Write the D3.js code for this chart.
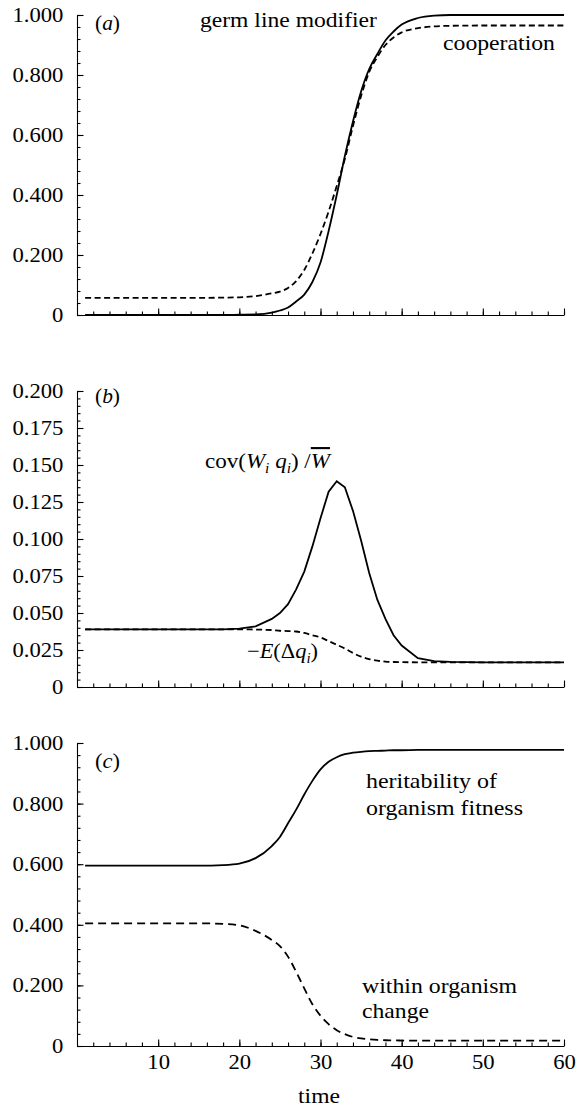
<!DOCTYPE html>
<meta charset="utf-8">
<style>
body { margin: 0; background: #fff; }
svg { display: block; background: #fff; }
text { font-family: "Liberation Serif", Tinos, "Times New Roman", Times, "Nimbus Roman", "Nimbus Roman No9 L", FreeSerif, "Noto Serif", "DejaVu Serif", serif; fill: #000; }
.axis path, .axis line { stroke: #000; stroke-width: 1.1px; }
.curve { fill: none; stroke: #000; stroke-width: 1.8px; }
</style>
<svg width="582" height="1107"></svg>
<script src="https://d3js.org/d3.v7.min.js"></script>
<script>
// time points (denser where the curves move)
var time = [1, 5, 10, 15, 18, 20, 22,
            24, 25, 26, 27, 28, 29, 30, 31, 32, 33, 34, 35, 36, 37, 38, 39, 40,
            42, 44, 46, 50, 55, 60];

// (a) frequencies
var germLine = [0, 0, 0, 0, 0, 0.001, 0.002,
                0.008, 0.015, 0.025, 0.045, 0.068, 0.11, 0.175, 0.28, 0.40, 0.53, 0.645, 0.745, 0.82, 0.87, 0.915, 0.945, 0.968,
                0.99, 0.998, 1.0, 1.0, 1.0, 1.0];
var cooperation = [0.057, 0.057, 0.057, 0.057, 0.058, 0.059, 0.063,
                   0.072, 0.078, 0.09, 0.113, 0.15, 0.205, 0.27, 0.345, 0.43, 0.52, 0.63, 0.73, 0.81, 0.86, 0.9, 0.925, 0.942,
                   0.956, 0.962, 0.964, 0.965, 0.965, 0.965];

// (b) change components
var covW = [0.039, 0.039, 0.039, 0.039, 0.039, 0.0395, 0.041,
            0.046, 0.050, 0.056, 0.066, 0.078, 0.095, 0.114, 0.132, 0.139, 0.135, 0.119, 0.099, 0.077, 0.059, 0.046, 0.035, 0.028,
            0.0195, 0.0175, 0.017, 0.0167, 0.0167, 0.0167];
var minusEdq = [0.039, 0.039, 0.039, 0.039, 0.039, 0.039, 0.0388,
                0.0385, 0.038, 0.0378, 0.0375, 0.0365, 0.035, 0.0335, 0.031, 0.0285, 0.026, 0.023, 0.0205, 0.0188, 0.0178, 0.0172, 0.0169, 0.0168,
                0.0167, 0.0167, 0.0167, 0.0167, 0.0167, 0.0167];

// (c) fractions
var heritability = [0.595, 0.595, 0.595, 0.595, 0.597, 0.602, 0.62,
                    0.66, 0.69, 0.735, 0.78, 0.83, 0.875, 0.913, 0.938, 0.953, 0.963, 0.968, 0.971, 0.973, 0.974, 0.975, 0.976, 0.976,
                    0.977, 0.977, 0.977, 0.977, 0.977, 0.977];
var withinChange = [0.405, 0.405, 0.405, 0.405, 0.403, 0.398, 0.38,
                    0.35, 0.33, 0.295, 0.245, 0.19, 0.138, 0.1, 0.072, 0.052, 0.039, 0.03, 0.025, 0.022, 0.02, 0.019, 0.0185, 0.018,
                    0.0177, 0.0175, 0.0175, 0.0175, 0.0175, 0.0175];

// axis ticks
var xTicks = [10, 20, 30, 40, 50, 60];
var yTicksA = [0, 0.2, 0.4, 0.6, 0.8, 1.0];
var yTicksB = [0, 0.025, 0.05, 0.075, 0.1, 0.125, 0.15, 0.175, 0.2];
var yTicksC = [0, 0.2, 0.4, 0.6, 0.8, 1.0];

var svg = d3.select("svg");

var x = d3.scaleLinear().domain([0, 60]).range([77, 564]);

var fmt3 = d3.format(".3f");
function yfmt(d) { return d === 0 ? "0" : fmt3(d); }

// horizontal stretch for tick labels: make "1.000" about 51px wide whatever font we got
var probe = svg.append("text").attr("font-size", 20).text("1.000");
var tickScale = 51 / probe.node().getComputedTextLength();
probe.remove();

var panels = [
  {top: 15, bottom: 315, max: 1, ticks: yTicksA, minor: 0.04, labels: false,
   series: [{v: germLine, dash: null, curve: d3.curveMonotoneX},
            {v: cooperation, dash: "6,3.5", curve: d3.curveMonotoneX}]},
  {top: 391, bottom: 687, max: 0.2, ticks: yTicksB, minor: 0.005, labels: false,
   series: [{v: covW, dash: null, curve: d3.curveLinear},
            {v: minusEdq, dash: "6,3.5", curve: d3.curveMonotoneX}]},
  {top: 743, bottom: 1046, max: 1, ticks: yTicksC, minor: 0.04, labels: true,
   series: [{v: heritability, dash: null, curve: d3.curveMonotoneX},
            {v: withinChange, dash: "8,5", curve: d3.curveMonotoneX}]}
];

panels.forEach(function(p) {
  var y = d3.scaleLinear().domain([0, p.max]).range([p.bottom, p.top]);
  var g = svg.append("g");

  // minor ticks
  g.append("g").attr("class", "axis")
    .attr("transform", "translate(" + x(0) + ",0)")
    .call(d3.axisLeft(y).tickValues(d3.range(0, p.max + 1e-9, p.minor)).tickSize(-3.5).tickFormat(""))
    .select(".domain").remove();
  g.append("g").attr("class", "axis")
    .attr("transform", "translate(0," + p.bottom + ")")
    .call(d3.axisBottom(x).tickValues(d3.range(2, 61, 2)).tickSize(-3.5).tickFormat(""))
    .select(".domain").remove();

  // major ticks
  var ya = g.append("g").attr("class", "axis")
    .attr("transform", "translate(" + x(0) + ",0)")
    .call(d3.axisLeft(y).tickValues(p.ticks).tickSizeInner(-6.5).tickSizeOuter(0)
      .tickPadding(12).tickFormat(yfmt));
  ya.selectAll("text").attr("font-size", 20).attr("transform", "scale(" + tickScale + ",1)");

  var xa = g.append("g").attr("class", "axis")
    .attr("transform", "translate(0," + p.bottom + ")")
    .call(d3.axisBottom(x).tickValues(xTicks).tickSizeInner(-6.5).tickSizeOuter(0)
      .tickPadding(9).tickFormat(p.labels ? d3.format("d") : ""));
  xa.selectAll("text").attr("font-size", 20).attr("transform", "scale(" + tickScale + ",1)");

  p.series.forEach(function(s) {
    var line = d3.line()
      .x(function(d, i) { return x(time[i]); })
      .y(function(d) { return y(d); })
      .curve(s.curve);
    g.append("path")
      .attr("class", "curve")
      .attr("d", line(s.v))
      .attr("stroke-dasharray", s.dash);
  });
});

// annotations: pieces of [text, style]; width = target width in px (stretch to fit)
function note(x0, y0, parts, width, anchor) {
  var t = svg.append("text")
    .attr("font-size", 21)
    .attr("text-anchor", anchor || "start");
  parts.forEach(function(p) {
    var ts = t.append("tspan").text(p[0]);
    var st = p[1] || "";
    if (st.indexOf("i") >= 0) ts.attr("font-style", "italic");
    if (st.indexOf("sub") >= 0) ts.attr("font-size", 14).attr("dy", 5);
    if (st.indexOf("up") >= 0) ts.attr("dy", -5);
    if (st.indexOf("over") >= 0) ts.style("text-decoration", "overline");
  });
  var k = width ? width / t.node().getComputedTextLength() : 1;
  t.attr("transform", "translate(" + x0 + "," + y0 + ") scale(" + k + ",1)");
  return t;
}

note(95, 30, [["("], ["a", "i"], [")"]], 25);
note(200, 27, [["germ line modifier"]], 177);
note(443, 50, [["cooperation"]], 112);

note(95, 403, [["("], ["b", "i"], [")"]], 25);
note(205, 468, [["cov("], ["W", "i"], ["i", "i sub"], [" q", "i up"], ["i", "i sub"], [") /", "up"], ["W", "i over"]], 125);
note(247, 658, [["\u2212"], ["E", "i"], ["(\u0394"], ["q", "i"], ["i", "i sub"], [")", "up"]], 71);

note(95, 768, [["("], ["c", "i"], [")"]], 25);
note(366, 788, [["heritability of"]], 131);
note(366, 815, [["organism fitness"]], 157);
note(362, 993, [["within organism"]], 155);
note(362, 1018, [["change"]], 67);

note(319, 1103, [["time"]], 42, "middle");
</script>
